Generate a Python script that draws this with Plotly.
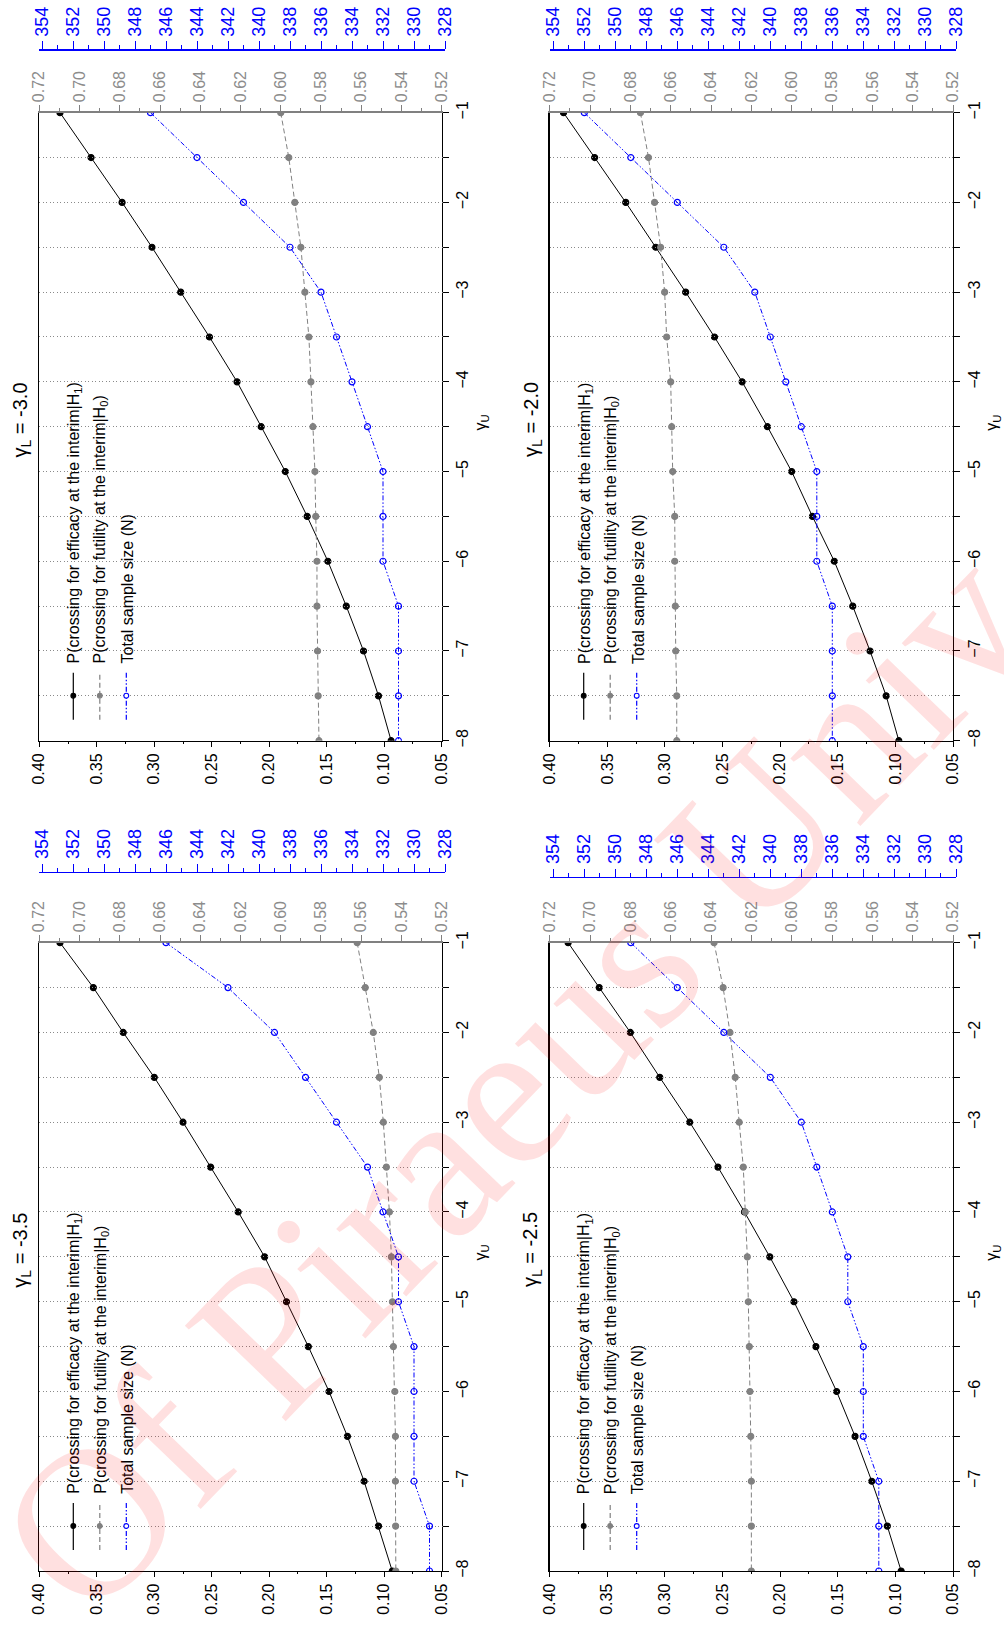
import plotly.graph_objects as go

# ---------------- data ----------------
gamma_u = [-1, -1.5, -2, -2.5, -3, -3.5, -4, -4.5, -5, -5.5, -6, -6.5, -7, -7.5, -8]

panel_titles = ["-3.5", "-3.0", "-2.5", "-2.0"]

eff_m35 = [0.382, 0.353, 0.327, 0.300, 0.275, 0.251, 0.227, 0.204, 0.185, 0.166, 0.148, 0.132, 0.1175, 0.105, 0.093]
eff_m30 = [0.382, 0.355, 0.328, 0.302, 0.277, 0.252, 0.228, 0.207, 0.186, 0.167, 0.149, 0.133, 0.118, 0.105, 0.094]
eff_m25 = [0.384, 0.357, 0.330, 0.3045, 0.2785, 0.254, 0.231, 0.209, 0.188, 0.169, 0.151, 0.135, 0.1205, 0.107, 0.095]
eff_m20 = [0.388, 0.361, 0.334, 0.308, 0.282, 0.257, 0.233, 0.211, 0.190, 0.172, 0.153, 0.137, 0.122, 0.108, 0.097]

fut_m35 = [0.562, 0.558, 0.554, 0.551, 0.549, 0.5475, 0.546, 0.545, 0.5445, 0.544, 0.5433, 0.543, 0.543, 0.5429, 0.5428]
fut_m30 = [0.600, 0.596, 0.593, 0.590, 0.588, 0.586, 0.585, 0.584, 0.583, 0.5826, 0.582, 0.582, 0.5817, 0.5814, 0.581]
fut_m25 = [0.6385, 0.634, 0.6306, 0.628, 0.626, 0.624, 0.623, 0.622, 0.6215, 0.621, 0.6207, 0.6203, 0.620, 0.620, 0.620]
fut_m20 = [0.675, 0.671, 0.668, 0.665, 0.663, 0.662, 0.660, 0.6595, 0.659, 0.658, 0.658, 0.6577, 0.6575, 0.657, 0.657]

n_m35 = [346, 342, 339, 337, 335, 333, 332, 331, 331, 330, 330, 330, 330, 329, 329]
n_m30 = [347, 344, 341, 338, 336, 335, 334, 333, 332, 332, 332, 331, 331, 331, 331]
n_m25 = [349, 346, 343, 340, 338, 337, 336, 335, 335, 334, 334, 334, 333, 333, 333]
n_m20 = [352, 349, 346, 343, 341, 340, 339, 338, 337, 337, 337, 336, 336, 336, 336]

legend_labels = [
    "P(crossing for efficacy at the interim|H<sub>1</sub>)",
    "P(crossing for futility at the interim|H<sub>0</sub>)",
    "Total sample size (N)",
]

eff_all = [eff_m35, eff_m30, eff_m25, eff_m20]
fut_all = [fut_m35, fut_m30, fut_m25, fut_m20]
n_all = [n_m35, n_m30, n_m25, n_m20]

# ---------------- layout geometry (pixels in 1004x1630 page) ----------------
W, H = 1004, 1630
FONT = "Liberation Sans, Arial, sans-serif"
BLUE = "#0000FF"
GRAY = "#808080"
GRAYTXT = "#8c8c8c"
N_MAX, N_MIN = 354, 328

# by: y of blue axis line; b354/b328: x where the 354 / 328 ticks sit
geo = [
    dict(x0=39.3, x1=441.7, top=942.7, bottom=1571.0, by=871.7, b354=42.0, b328=445.0),
    dict(x0=39.3, x1=441.7, top=112.7, bottom=740.7, by=49.3, b354=42.0, b328=445.0),
    dict(x0=549.7, x1=953.0, top=942.7, bottom=1571.0, by=876.7, b354=553.3, b328=956.3),
    dict(x0=549.7, x1=953.0, top=112.7, bottom=740.7, by=49.3, b354=553.3, b328=956.3),
]


def fx(x):
    return x / W


def fy(y):
    return 1 - y / H


fig = go.Figure()
layout = dict(
    width=W, height=H,
    margin=dict(l=0, r=0, t=0, b=0),
    paper_bgcolor="white",
    plot_bgcolor="rgba(0,0,0,0)",
    showlegend=False,
    font=dict(family=FONT, size=16, color="black"),
)
annotations = []
shapes = []

styles = [
    dict(color="black", dash="solid", msym="circle", mcol="black", mline="black", msize=6),
    dict(color=GRAY, dash="5px,3px", msym="circle", mcol=GRAY, mline=GRAY, msize=6),
    dict(color=BLUE, dash="5px,2px,1.5px,2px,1.5px,2px", msym="circle-open", mcol=BLUE, mline=BLUE, msize=6),
]

GRID = dict(showgrid=True, gridcolor="#8a8a8a", griddash="1px,2.5px", gridwidth=1)

for i, g in enumerate(geo):
    xb = 3 * i + 1
    xg = 3 * i + 2
    xn = 3 * i + 3
    yi = i + 1

    def nm(k):
        return "" if k == 1 else str(k)

    xb_id, xg_id, xn_id, y_id = "x" + nm(xb), "x" + nm(xg), "x" + nm(xn), "y" + nm(yi)

    # base probability axis (bottom)
    layout["xaxis" + nm(xb)] = dict(
        domain=[fx(g["x0"]), fx(g["x1"])], anchor=y_id, side="bottom",
        range=[0.40, 0.05], dtick=0.05, tick0=0.05, tickformat=".2f",
        ticks="outside", ticklen=5, tickcolor="black", tickangle=-90,
        tickfont=dict(size=16, color="black", family=FONT),
        minor=dict(dtick=0.025, ticks="outside", ticklen=2, tickcolor="black"),
        showline=True, linecolor="black", linewidth=1.3, mirror=False,
        showgrid=False, zeroline=False, automargin=False,
    )
    # gray futility axis (top)
    layout["xaxis" + nm(xg)] = dict(
        overlaying=xb_id, anchor=y_id, side="top",
        range=[0.72, 0.52], dtick=0.02, tick0=0.52, tickformat=".2f",
        ticks="outside", ticklen=6, tickcolor=GRAY, tickangle=-90,
        tickfont=dict(size=16, color=GRAYTXT, family=FONT),
        minor=dict(dtick=0.01, ticks="outside", ticklen=3, tickcolor=GRAY),
        showline=True, linecolor=GRAY, linewidth=1.3,
        showgrid=False, zeroline=False, automargin=False,
    )
    # blue sample-size axis (offset, top); starts at the panel's left edge so
    # that the shared y gridlines line up exactly
    px_per_unit = (g["b328"] - g["b354"]) / (N_MAX - N_MIN)
    n_start = N_MAX + (g["b354"] - g["x0"]) / px_per_unit
    layout["xaxis" + nm(xn)] = dict(
        domain=[fx(g["x0"]), fx(g["b328"])], anchor="free", position=fy(g["by"]), side="top",
        range=[n_start, N_MIN], dtick=2, tick0=N_MIN,
        ticks="outside", ticklen=8, tickcolor=BLUE, tickangle=-90,
        ticklabelstandoff=1,
        tickfont=dict(size=18, color=BLUE, family=FONT),
        minor=dict(dtick=1, ticks="outside", ticklen=4, tickcolor=BLUE),
        showline=True, linecolor=BLUE, linewidth=1.5,
        showgrid=False, zeroline=False, automargin=False,
    )
    # gamma_U axis (right side)
    layout["yaxis" + nm(yi)] = dict(
        domain=[fy(g["bottom"]), fy(g["top"])], anchor=xb_id, side="right",
        range=[-8, -1], dtick=1, tick0=-8,
        ticks="outside", ticklen=6, tickcolor="black", tickangle=-90,
        tickfont=dict(size=16, color="black", family=FONT),
        minor=dict(dtick=0.5, ticks="outside", ticklen=6, tickcolor="black", **GRID),
        showline=True, linecolor="black", linewidth=1.3, mirror=True,
        zeroline=False, automargin=False, **GRID,
    )

    series = [(eff_all[i], xb_id), (fut_all[i], xg_id), (n_all[i], xn_id)]
    for (vals, xid), st in zip(series, styles):
        fig.add_trace(go.Scatter(
            x=vals, y=gamma_u, xaxis=xid, yaxis=y_id, mode="lines+markers",
            line=dict(color=st["color"], width=1, dash=st["dash"]),
            marker=dict(symbol=st["msym"], size=st["msize"], color=st["mcol"],
                        line=dict(color=st["mline"], width=1.2)),
            hoverinfo="skip",
        ))

    mid = (g["top"] + g["bottom"]) / 2
    # panel title
    annotations.append(dict(
        text="γ<sub>L</sub> = " + panel_titles[i], textangle=-90,
        x=fx(g["x0"] - 17.5), y=fy(mid - 7),
        xref="paper", yref="paper", xanchor="center", yanchor="middle",
        showarrow=False, font=dict(size=20, color="black", family=FONT),
    ))
    # gamma_U axis title
    annotations.append(dict(
        text="γ<sub>U</sub>", textangle=-90,
        x=fx(g["x1"] + 40), y=fy(mid - 4),
        xref="paper", yref="paper", xanchor="center", yanchor="middle",
        showarrow=False, font=dict(size=16, color="black", family=FONT),
    ))
    # manual rotated legend
    offs = [34, 60.5, 87]
    for k in range(3):
        lx = g["x0"] + offs[k]
        st = styles[k]
        shapes.append(dict(
            type="line", xref="paper", yref="paper",
            x0=fx(lx), x1=fx(lx), y0=fy(g["bottom"] - 21), y1=fy(g["bottom"] - 68),
            line=dict(color=st["color"], width=1.2, dash=st["dash"]),
        ))
        my = g["bottom"] - 45
        r = 2.4
        shapes.append(dict(
            type="circle", xref="paper", yref="paper",
            x0=fx(lx - r), x1=fx(lx + r), y0=fy(my + r), y1=fy(my - r),
            line=dict(color=st["mline"], width=1.1),
            fillcolor=("white" if k == 2 else st["mcol"]),
        ))
        annotations.append(dict(
            text=legend_labels[k], textangle=-90,
            x=fx(lx + 1), y=fy(g["bottom"] - 75),
            xref="paper", yref="paper", xanchor="center", yanchor="bottom",
            showarrow=False, font=dict(size=16, color="black", family=FONT),
        ))

# faint watermark of the source document
annotations.append(dict(
    text="Of Piraeus Univ", textangle=-46,
    x=fx(515), y=fy(1080), xref="paper", yref="paper",
    xanchor="center", yanchor="middle", showarrow=False,
    font=dict(size=212, color="rgba(255,0,0,0.12)", family="Liberation Serif, Times New Roman, serif"),
))

layout["annotations"] = annotations
layout["shapes"] = shapes
fig.update_layout(**layout)
fig.write_html(
    "out.html",
    config={"displayModeBar": False, "staticPlot": True},
    post_script="document.body.style.margin='0';document.body.style.padding='0';",
)
